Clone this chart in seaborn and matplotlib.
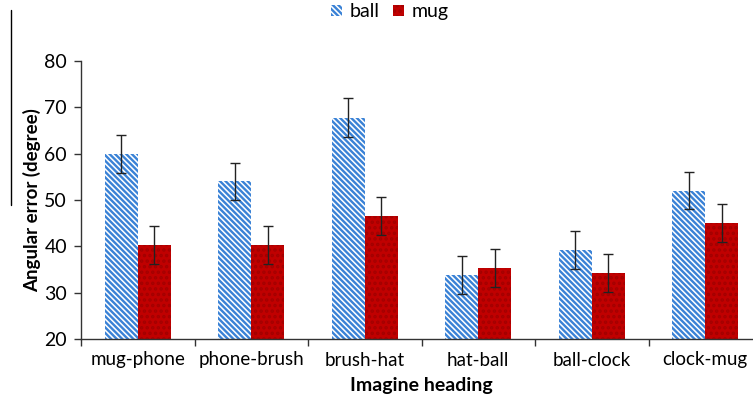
import matplotlib
matplotlib.use("Agg")
import matplotlib.pyplot as plt
from matplotlib.lines import Line2D
import numpy as np
import pandas as pd
import seaborn as sns

headings = ["mug-phone", "phone-brush", "brush-hat", "hat-ball", "ball-clock", "clock-mug"]
objects = ["ball", "mug"]
ball_mean = [60.0, 54.0, 67.8, 33.8, 39.2, 52.0]
ball_err = [4.1, 4.0, 4.2, 4.1, 4.1, 4.0]
mug_mean = [40.2, 40.2, 46.6, 35.3, 34.2, 45.1]
mug_err = [4.1, 4.1, 4.1, 4.1, 4.1, 4.1]
yticks = [20, 30, 40, 50, 60, 70, 80]

blue = "#3a82d6"
red = "#c00000"
dot = "#a30000"
stripes = "\\" * 6

sns.set_theme(style="white")
plt.rcParams["font.family"] = ["Lato", "DejaVu Sans"]
plt.rcParams["hatch.linewidth"] = 1.7
plt.rcParams["text.color"] = "black"
plt.rcParams["axes.labelcolor"] = "black"
plt.rcParams["xtick.color"] = "black"
plt.rcParams["ytick.color"] = "black"

df = pd.DataFrame({
    "heading": headings * 2,
    "object": ["ball"] * len(headings) + ["mug"] * len(headings),
    "error": ball_mean + mug_mean,
})

fig = plt.figure(figsize=(7.53, 4.01), dpi=100)
ax = fig.add_axes([81 / 753, 1 - 339 / 401, 681 / 753, 278 / 401])

sns.barplot(data=df, x="heading", y="error", hue="object", order=headings,
            hue_order=objects, palette=[blue, red], width=0.58, gap=0,
            errorbar=None, ax=ax, legend=False)

ball_bars, mug_bars = ax.containers[0], ax.containers[1]
for p in ball_bars:
    p.set_facecolor("white")
    p.set_edgecolor(blue)
    p.set_hatch(stripes)
    p.set_linewidth(0)
for p in mug_bars:
    p.set_facecolor(red)
    p.set_edgecolor(dot)
    p.set_hatch("...")
    p.set_linewidth(0)

for bars, means, errs in ((ball_bars, ball_mean, ball_err), (mug_bars, mug_mean, mug_err)):
    xs = [p.get_x() + p.get_width() / 2 for p in bars]
    ax.errorbar(xs, means, yerr=errs, fmt="none", ecolor="#222222",
                elinewidth=1.0, capsize=3.8, capthick=1.0, zorder=5)

ax.set_ylim(20, 80)
ax.set_xlim(-0.5, len(headings) - 0.5)
ax.set_yticks(yticks)
ax.set_yticklabels([str(t) for t in yticks], fontsize=14)

# category boundary ticks on the x axis, labels at the centres
ax.set_xticks(np.arange(len(headings)))
ax.set_xticklabels(headings, fontsize=13.5)
ax.set_xticks(np.arange(len(headings) + 1) - 0.5, minor=True)
ax.tick_params(axis="x", which="major", length=0, pad=9)
ax.tick_params(axis="x", which="minor", direction="out", length=5, width=1, color="#333333", bottom=True)
ax.tick_params(axis="y", direction="out", length=5, width=1, color="#333333", left=True, pad=5)

for side in ("top", "right"):
    ax.spines[side].set_visible(False)
for side in ("left", "bottom"):
    ax.spines[side].set_color("#333333")
    ax.spines[side].set_linewidth(1.0)

ax.set_xlabel("Imagine heading", fontsize=14, fontweight="bold", labelpad=6)
ax.set_ylabel("Angular error (degree)", fontsize=13.5, fontweight="bold", labelpad=2)

handles = [
    plt.Rectangle((0, 0), 1, 1, facecolor="white", edgecolor=blue, hatch=stripes, linewidth=0),
    plt.Rectangle((0, 0), 1, 1, facecolor=red, edgecolor=dot, hatch="...", linewidth=0),
]
fig.legend(handles, objects, loc="upper center", bbox_to_anchor=(0.518, 1.035), ncol=2,
           frameon=False, fontsize=14, handlelength=0.55, handleheight=0.55,
           handletextpad=0.4, columnspacing=0.7)

fig.add_artist(Line2D([11 / 753, 11 / 753], [1 - 10 / 401, 1 - 205 / 401],
                      color="black", linewidth=1.0))

fig.savefig("out.png", dpi=100)
